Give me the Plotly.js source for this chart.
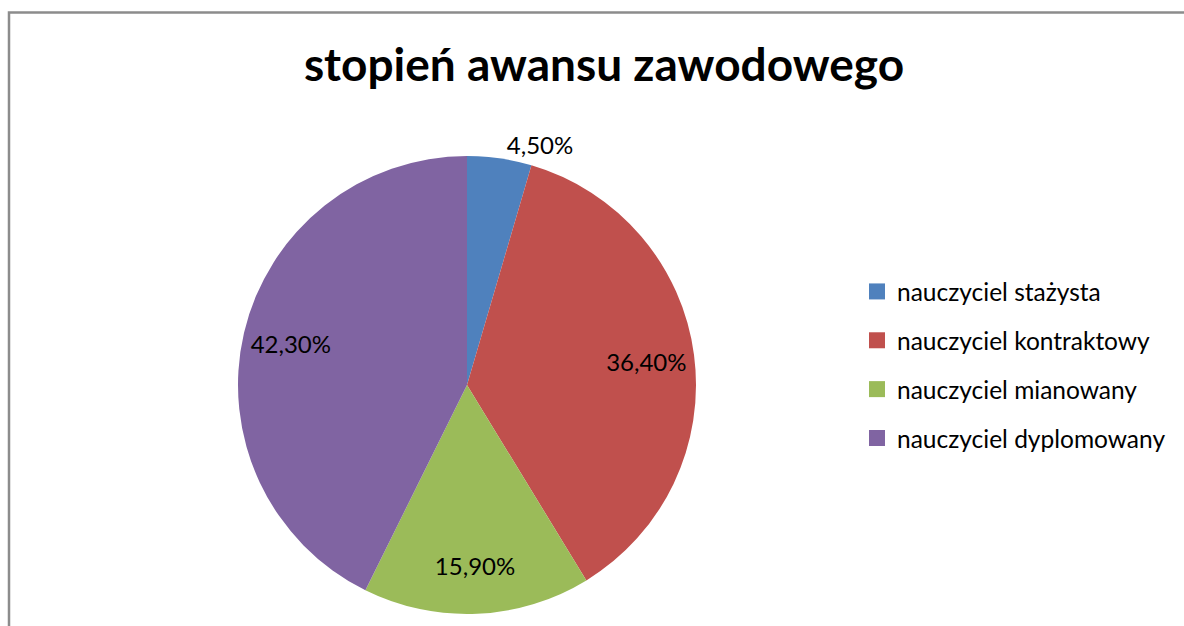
<!DOCTYPE html>
<html>
<head>
<meta charset="utf-8">
<script src="https://cdn.plot.ly/plotly-3.0.1.min.js"></script>
<style>
html,body{margin:0;padding:0;background:#fff;}
#chart{width:1184px;height:626px;}
</style>
</head>
<body>
<div id="chart"></div>
<script>
const categories = ["nauczyciel stażysta", "nauczyciel kontraktowy", "nauczyciel mianowany", "nauczyciel dyplomowany"];
const values = [4.5, 36.4, 15.9, 42.3];
const valueLabels = ["4,50%", "36,40%", "15,90%", "42,30%"];
const colors = ["#4F81BD", "#C0504D", "#9BBB59", "#8064A2"];
const titleText = "stopień awansu zawodowego";

const W = 1184, H = 626;
const fontFam = "Lato, 'Open Sans', sans-serif";
const pieDomain = {x: [237 / W, 697 / W], y: [1 - 614 / H, 1 - 156 / H]};

const pie = {
  type: "pie",
  labels: categories,
  values: values,
  textinfo: "none",
  sort: false,
  direction: "clockwise",
  rotation: 0,
  marker: {colors: colors, line: {width: 0}},
  domain: pieDomain,
  showlegend: false,
  hoverinfo: "label+percent"
};

// transparent ring carrying the data labels, so they sit near the rim like the original
const labelRing = {
  type: "pie",
  labels: categories,
  values: values,
  text: valueLabels,
  textinfo: "text",
  textposition: ["outside", "inside", "inside", "inside"],
  insidetextorientation: "horizontal",
  hole: 0.58,
  sort: false,
  direction: "clockwise",
  rotation: 0,
  marker: {colors: colors.map(() => "rgba(0,0,0,0)"), line: {width: 0}},
  textfont: {family: fontFam, size: 24, color: "#000"},
  outsidetextfont: {family: fontFam, size: 24, color: "#000"},
  insidetextfont: {family: fontFam, size: 24, color: "#000"},
  domain: pieDomain,
  showlegend: false,
  hoverinfo: "skip"
};

const legendTraces = categories.map((c, i) => ({
  type: "scatter",
  x: [null], y: [null],
  mode: "markers",
  name: c,
  legendgroup: "g" + i,
  marker: {symbol: "square", size: 16, color: colors[i]},
  showlegend: true,
  hoverinfo: "skip"
}));

const layout = {
  width: W, height: H,
  margin: {l: 0, r: 0, t: 0, b: 0},
  paper_bgcolor: "#fff",
  plot_bgcolor: "#fff",
  title: {
    text: "<b>" + titleText + "</b>",
    font: {family: fontFam, size: 46, color: "#000"},
    x: 604 / W, xanchor: "center",
    y: 1 - 65 / H, yanchor: "middle"
  },
  xaxis: {visible: false},
  yaxis: {visible: false},
  legend: {
    x: 857 / W, xanchor: "left",
    y: 1 - 365 / H, yanchor: "middle",
    font: {family: fontFam, size: 24.5, color: "#000"},
    tracegroupgap: 14,
    bgcolor: "rgba(0,0,0,0)"
  },
  shapes: [{
    type: "rect", xref: "paper", yref: "paper",
    x0: 9 / W, x1: 1.05, y0: -0.05, y1: 1 - 12.5 / H,
    line: {color: "#8C8C8C", width: 2.5},
    fillcolor: "rgba(0,0,0,0)"
  }],
  showlegend: true
};

Plotly.newPlot("chart", [pie, labelRing].concat(legendTraces), layout, {displayModeBar: false, staticPlot: true});
</script>
</body>
</html>
